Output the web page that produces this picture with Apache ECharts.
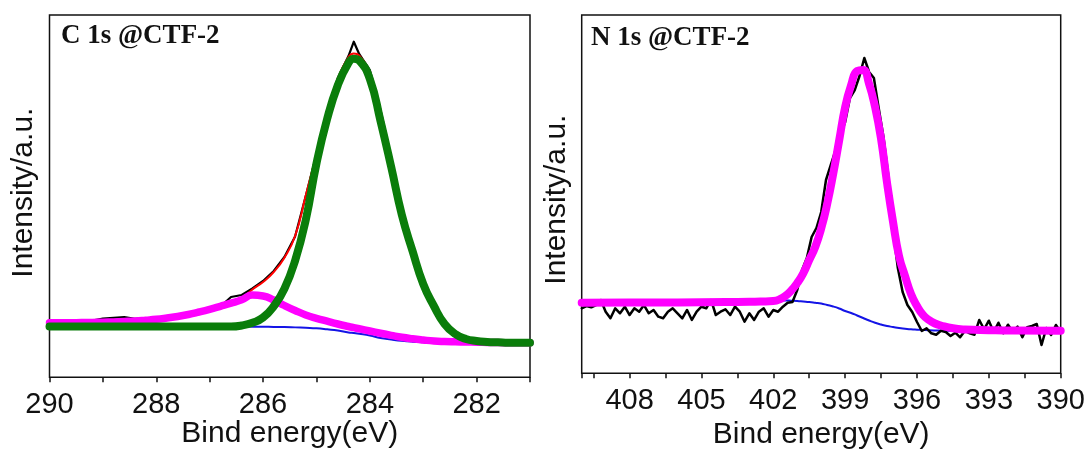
<!DOCTYPE html>
<html>
<head>
<meta charset="utf-8">
<title>XPS C 1s / N 1s @CTF-2</title>
<script src="https://cdn.jsdelivr.net/npm/echarts@6.0.0/dist/echarts.min.js"></script>
<style>
  html, body { margin: 0; padding: 0; background: #fff; }
  #chart { width: 1092px; height: 450px; }
</style>
</head>
<body>
<div id="chart"></div>
<script>
// C 1s panel: binding energy (eV) and intensities (a.u., 0-100 of the frame height)
const c1sEnergy = [290, 289.8, 289.6, 289.4, 289.2, 289, 288.8, 288.6, 288.4, 288.2, 288, 287.8, 287.6, 287.4, 287.2, 287, 286.8, 286.6, 286.4, 286.2, 286, 285.8, 285.6, 285.4, 285.2, 285, 284.8, 284.6, 284.4, 284.3, 284.2, 284, 283.8, 283.6, 283.4, 283.2, 283, 282.8, 282.6, 282.4, 282.2, 282, 281.8, 281.6, 281.4, 281.2, 281];
const c1sRaw = [15.04, 15.10, 15.02, 15.15, 15.68, 16.23, 16.42, 16.64, 16.15, 16.31, 15.82, 16.23, 16.64, 17.20, 17.89, 18.71, 19.54, 22.16, 22.72, 24.51, 26.58, 29.34, 33.20, 38.86, 50.04, 61.50, 73.36, 82.61, 88.68, 92.63, 89.24, 84.82, 73.78, 60.53, 46.73, 35.96, 26.58, 20.51, 15.54, 12.64, 10.99, 10.35, 9.96, 9.74, 9.66, 9.61, 9.58];
const c1sFit = [15.04, 15.04, 15.07, 15.10, 15.15, 15.21, 15.29, 15.40, 15.54, 15.76, 16.01, 16.37, 16.78, 17.33, 18.02, 18.77, 19.60, 20.45, 21.75, 24.23, 26.30, 29.06, 33.01, 39.00, 50.18, 61.63, 73.50, 82.42, 88.41, 89.37, 88.82, 83.58, 72.12, 59.15, 45.76, 35.69, 26.30, 20.15, 15.04, 12.23, 10.76, 10.16, 9.85, 9.72, 9.58, 9.58, 9.58];
const c1sPeakCN = [15.04, 15.04, 15.07, 15.10, 15.15, 15.21, 15.29, 15.40, 15.54, 15.76, 16.01, 16.37, 16.78, 17.33, 18.02, 18.77, 19.60, 20.45, 21.39, 22.70, 22.45, 21.34, 19.82, 18.44, 17.20, 16.28, 15.48, 14.71, 14.02, 13.70, 13.39, 12.78, 12.17, 11.59, 11.04, 10.63, 10.30, 10.02, 9.88, 9.80, 9.74, 9.69, 9.62, 9.58, 9.56, 9.55, 9.55];
const c1sPeakCC = [14.02, 14.02, 14.02, 14.02, 14.02, 14.02, 14.02, 14.02, 14.02, 14.02, 14.02, 14.02, 14.02, 14.02, 14.02, 14.02, 14.02, 14.02, 14.30, 15.05, 16.50, 19.61, 24.44, 32.18, 43.42, 58.98, 71.29, 80.62, 86.75, 87.94, 87.44, 82.33, 70.74, 58.05, 44.80, 34.86, 25.75, 19.68, 14.71, 11.95, 10.57, 10.02, 9.77, 9.66, 9.55, 9.55, 9.55];
const c1sBackground = [14.02, 14.02, 14.02, 14.02, 14.02, 14.02, 14.02, 14.02, 14.02, 14.02, 14.02, 14.02, 14.02, 14.02, 14.02, 14.02, 14.02, 14.02, 14.02, 13.98, 13.94, 13.91, 13.88, 13.78, 13.66, 13.52, 13.25, 12.92, 12.37, 12.20, 12.01, 11.54, 10.85, 10.43, 10.07, 9.83, 9.69, 9.55, 9.55, 9.55, 9.55, 9.55, 9.55, 9.55, 9.55, 9.55, 9.55];

// N 1s panel: raw scan
const n1sEnergy = [410, 409.8, 409.6, 409.4, 409.2, 409, 408.8, 408.6, 408.4, 408.2, 408, 407.8, 407.6, 407.4, 407.2, 407, 406.8, 406.6, 406.4, 406.2, 406, 405.8, 405.6, 405.4, 405.2, 405, 404.8, 404.6, 404.4, 404.2, 404, 403.8, 403.6, 403.4, 403.2, 403, 402.8, 402.6, 402.4, 402.2, 402, 401.8, 401.6, 401.4, 401.2, 401, 400.8, 400.6, 400.4, 400.2, 400, 399.8, 399.6, 399.4, 399.2, 399, 398.8, 398.6, 398.4, 398.2, 398, 397.8, 397.6, 397.4, 397.2, 397, 396.8, 396.6, 396.4, 396.2, 396, 395.8, 395.6, 395.4, 395.2, 395, 394.8, 394.6, 394.4, 394.2, 394, 393.8, 393.6, 393.4, 393.2, 393, 392.8, 392.6, 392.4, 392.2, 392, 391.8, 391.6, 391.4, 391.2, 391, 390.8, 390.6, 390.4, 390.2, 390];
const n1sRaw = [18.14, 18.78, 18.42, 19.06, 20.46, 17.19, 15.35, 18.14, 16.75, 18.59, 16.27, 18.14, 17.19, 19.06, 16.75, 17.67, 15.80, 15.35, 17.19, 18.14, 16.75, 15.35, 17.67, 14.88, 17.19, 18.59, 18.14, 20.46, 16.27, 17.19, 17.86, 16.27, 18.59, 17.19, 14.40, 16.75, 14.88, 17.19, 18.14, 15.80, 17.67, 17.19, 18.59, 19.70, 19.90, 23.25, 28.83, 32.18, 38.04, 40.55, 45.02, 53.95, 58.14, 62.32, 66.51, 70.14, 76.83, 79.07, 82.98, 88.00, 84.09, 82.42, 74.04, 65.95, 55.34, 39.99, 29.39, 22.69, 19.06, 17.11, 14.32, 11.81, 12.56, 11.16, 10.77, 11.89, 11.53, 10.41, 11.33, 10.05, 11.89, 11.16, 10.77, 14.88, 12.28, 14.68, 11.53, 14.12, 11.16, 13.56, 11.61, 13.01, 10.05, 12.84, 13.20, 13.76, 7.90, 12.64, 10.69, 13.48, 11.53];

// N 1s panel: fitted envelope and background
const n1sFitEnergy = [410, 408, 406, 404, 403, 402.5, 402, 401.75, 401.5, 401.25, 401, 400.75, 400.5, 400.25, 400, 399.75, 399.5, 399.25, 399, 398.75, 398.5, 398.25, 398, 397.75, 397.5, 397.25, 397, 396.75, 396.5, 396.25, 396, 395.75, 395.5, 395.25, 395, 394.5, 394, 393, 392, 390];
const n1sFit = [19.70, 19.73, 19.79, 19.90, 19.96, 20.04, 20.18, 20.60, 21.57, 23.11, 25.20, 27.91, 31.62, 35.25, 40.41, 47.25, 55.62, 64.97, 74.32, 80.46, 84.37, 84.65, 80.74, 74.32, 65.39, 53.11, 42.23, 32.74, 27.16, 22.13, 18.78, 16.28, 14.88, 13.90, 13.34, 12.56, 12.22, 12.03, 11.92, 11.89];
const n1sBackground = [20.04, 20.04, 20.04, 20.06, 20.08, 20.12, 20.18, 20.32, 20.32, 20.26, 20.18, 20.04, 19.90, 19.70, 19.48, 19.06, 18.64, 18.09, 17.39, 16.83, 16.13, 15.43, 14.74, 14.12, 13.62, 13.20, 12.92, 12.64, 12.45, 12.28, 12.17, 12.08, 12.00, 11.95, 11.92, 11.89, 11.86, 11.86, 11.86, 11.86];

const ink = '#111';
const sans = '"Liberation Sans", Arial, sans-serif';

const pairs = (xs, ys) => xs.map((x, i) => [x, ys[i]]);

const line = (name, panel, xs, ys, color, width, smooth) => ({
  name,
  type: 'line',
  xAxisIndex: panel,
  yAxisIndex: panel,
  data: pairs(xs, ys),
  symbol: 'none',
  smooth: smooth ? 0.5 : false,
  silent: true,
  lineStyle: { color, width, cap: 'round', join: 'round' }
});

const xAxisBase = (panel, min, max, interval, step, margin, gap) => ({
  gridIndex: panel,
  type: 'value',
  inverse: true,
  min,
  max,
  interval,
  axisLine: { show: false },
  axisTick: { show: true, inside: false, length: 5, lineStyle: { color: ink, width: 1.5 } },
  axisLabel: {
    margin,
    fontSize: 29,
    color: ink,
    fontFamily: sans,
    formatter: v => (Math.abs(v % step) < 1e-6 ? String(v) : '')
  },
  splitLine: { show: false },
  name: 'Bind energy(eV)',
  nameLocation: 'middle',
  nameGap: gap,
  nameMoveOverlap: false,
  nameTextStyle: { fontSize: 30, color: ink, fontFamily: sans }
});

const yAxisBase = (panel, gap, padding) => ({
  gridIndex: panel,
  type: 'value',
  min: 0,
  max: 100,
  axisLine: { show: false },
  axisTick: { show: false },
  axisLabel: { show: false },
  splitLine: { show: false },
  name: 'Intensity/a.u.',
  nameLocation: 'middle',
  nameRotate: 90,
  nameGap: gap,
  nameMoveOverlap: false,
  nameTextStyle: { fontSize: 30, color: ink, fontFamily: sans, padding }
});

const titleStyle = { fontFamily: '"Liberation Serif", "Times New Roman", serif', fontWeight: 'bold', fontSize: 27, color: ink };

const option = {
  animation: false,
  backgroundColor: '#fff',
  title: [
    { text: 'C 1s @CTF-2', left: 61, top: 23, padding: 0, textStyle: titleStyle },
    { text: 'N 1s @CTF-2', left: 591, top: 24.5, padding: 0, textStyle: titleStyle }
  ],
  grid: [
    { left: 49.5, top: 15, width: 480.5, height: 362.3, outerBoundsMode: 'none', show: true, borderColor: ink, borderWidth: 1.5 },
    { left: 581.7, top: 15, width: 479, height: 358.3, outerBoundsMode: 'none', show: true, borderColor: ink, borderWidth: 1.5 }
  ],
  xAxis: [
    xAxisBase(0, 281, 290, 1, 2, 13, 41),
    xAxisBase(1, 390, 410, 1.5, 3, 13, 46)
  ],
  yAxis: [
    yAxisBase(0, 11, [0, 0, 0, 7]),
    yAxisBase(1, 9.5, [0, 11, 0, 0])
  ],
  series: [
    line('C 1s background', 0, c1sEnergy, c1sBackground, '#1414e6', 2, true),
    line('C 1s raw', 0, c1sEnergy, c1sRaw, '#000', 2.2, false),
    line('C 1s fit', 0, c1sEnergy, c1sFit, '#ff0000', 2, true),
    line('C 1s C-N', 0, c1sEnergy, c1sPeakCN, '#ff00ff', 7.5, true),
    line('C 1s C-C', 0, c1sEnergy, c1sPeakCC, '#0a7d0a', 8, true),
    line('N 1s background', 1, n1sFitEnergy, n1sBackground, '#1414e6', 2, true),
    line('N 1s raw', 1, n1sEnergy, n1sRaw, '#000', 2.5, false),
    line('N 1s fit', 1, n1sFitEnergy, n1sFit, '#ff00ff', 8, true)
  ]
};

const chart = echarts.init(document.getElementById('chart'), null, { renderer: 'canvas' });
chart.setOption(option);
</script>
</body>
</html>
